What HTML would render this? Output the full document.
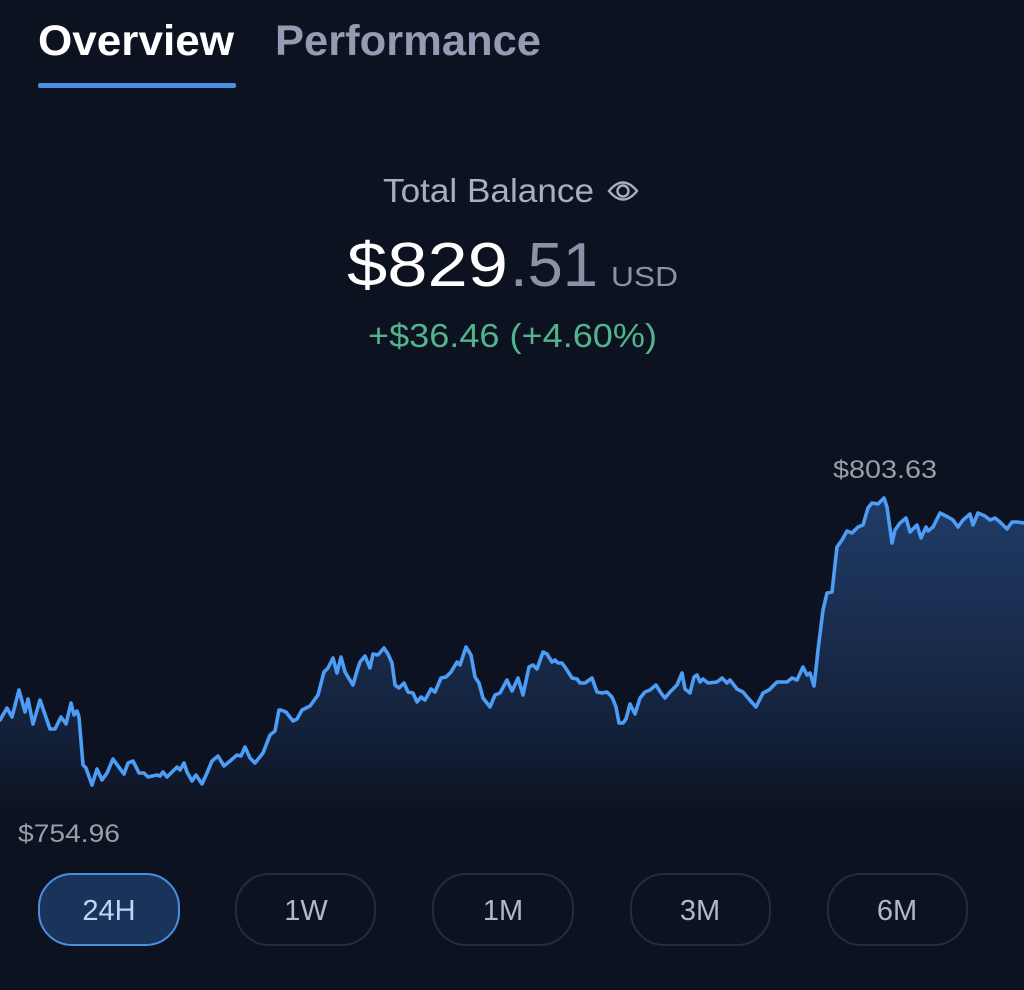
<!DOCTYPE html>
<html><head><meta charset="utf-8"><style>
html,body{margin:0;padding:0;background:#0d1220;}
svg{display:block;}
text{font-family:"Liberation Sans",sans-serif;}
</style></head><body>
<svg width="1024" height="990" viewBox="0 0 1024 990" xmlns="http://www.w3.org/2000/svg">
<defs>
<linearGradient id="g" x1="0" y1="495" x2="0" y2="815" gradientUnits="userSpaceOnUse">
<stop offset="0" stop-color="#203c68"/>
<stop offset="0.45" stop-color="#192c4c"/>
<stop offset="0.75" stop-color="#132039"/>
<stop offset="1" stop-color="#0d1220"/>
</linearGradient>
</defs>
<rect width="1024" height="990" fill="#0d1220"/>
<text x="38" y="55" font-size="43" font-weight="bold" fill="#ffffff" textLength="196" lengthAdjust="spacingAndGlyphs">Overview</text>
<text x="275" y="55" font-size="43" font-weight="bold" fill="#959bb2" textLength="266" lengthAdjust="spacingAndGlyphs">Performance</text>
<rect x="38" y="83" width="198" height="5" rx="2" fill="#4a90e2"/>

<text x="383" y="202" font-size="33" fill="#a8adbf" textLength="211" lengthAdjust="spacingAndGlyphs">Total Balance</text>
<g fill="none" stroke="#a8adbf" stroke-width="2.4">
<path d="M609 191 Q623 174 637 191 Q623 208 609 191 Z"/>
<circle cx="623" cy="191" r="5.5"/>
</g>

<text x="347" y="286" font-size="62" fill="#ffffff" textLength="161" lengthAdjust="spacingAndGlyphs">$829</text>
<text x="510" y="286" font-size="62" fill="#8b91a8" textLength="88" lengthAdjust="spacingAndGlyphs">.51</text>
<text x="611" y="286" font-size="28" fill="#8b91a8" textLength="67" lengthAdjust="spacingAndGlyphs">USD</text>
<text x="368" y="347" font-size="33" fill="#52b38c" textLength="289" lengthAdjust="spacingAndGlyphs">+$36.46 (+4.60%)</text>

<text x="833" y="478" font-size="25" fill="#9a9eab" textLength="104" lengthAdjust="spacingAndGlyphs">$803.63</text>
<text x="18" y="842" font-size="25" fill="#9a9eab" textLength="102" lengthAdjust="spacingAndGlyphs">$754.96</text>

<path id="area" fill="url(#g)" d="M0,720 L7,708 12,717 19,690 25,712 28,699 33,724 40,700 50,729 55,729 61,717 66,724 71,703 74,715 77,711 79,717 83,765 86,768 92,785 97,769 102,780 107,773 113,759 118,766 124,774 128,763 133,761 139,773 144,773 148,777 157,775 160,776 163,772 167,777 177,767 180,770 184,763 187,772 192,781 196,775 202,784 207,773 212,761 218,756 224,766 230,761 237,755 241,756 245,747 250,758 255,763 263,753 270,735 275,731 279,710 281,710 286,712 293,721 297,719 302,710 310,706 318,695 324,672 328,668 333,658 337,673 341,657 345,672 348,677 353,685 357,671 360,662 365,656 370,668 373,654 378,655 384,648 388,654 392,663 395,685 399,688 404,683 408,692 413,693 417,702 421,697 425,700 431,689 435,692 441,678 446,677 451,672 454,667 457,662 460,665 466,647 471,655 475,677 479,683 483,698 490,707 495,695 500,693 507,680 512,691 518,678 523,695 529,667 533,665 537,669 543,652 547,654 552,662 555,660 558,663 562,663 567,670 572,678 577,679 580,683 585,683 592,678 597,692 602,693 607,692 612,697 616,707 619,723 623,723 626,719 630,704 635,714 640,698 645,692 650,690 656,685 661,693 665,698 670,692 677,685 682,673 685,689 690,693 694,677 697,675 700,682 703,679 708,683 717,682 722,678 727,683 730,680 737,689 743,692 748,698 756,707 763,693 769,690 777,682 787,682 792,678 797,680 803,667 807,675 810,673 814,686 817,660 818,650 823,610 827,593 832,592 837,547 842,540 847,531 852,533 858,527 863,525 868,508 872,503 878,504 884,498 887,507 892,543 895,530 900,523 906,518 910,532 917,525 921,538 926,527 928,531 933,527 940,513 944,515 948,517 953,520 958,527 963,520 970,514 973,525 978,513 985,516 990,520 995,518 1000,522 1007,529 1012,522 1017,522 1024,523 L1024,815 L0,815 Z"/>
<polyline fill="none" stroke="#4d9cf5" stroke-width="3.6" stroke-linejoin="round" stroke-linecap="round" points="0,720 7,708 12,717 19,690 25,712 28,699 33,724 40,700 50,729 55,729 61,717 66,724 71,703 74,715 77,711 79,717 83,765 86,768 92,785 97,769 102,780 107,773 113,759 118,766 124,774 128,763 133,761 139,773 144,773 148,777 157,775 160,776 163,772 167,777 177,767 180,770 184,763 187,772 192,781 196,775 202,784 207,773 212,761 218,756 224,766 230,761 237,755 241,756 245,747 250,758 255,763 263,753 270,735 275,731 279,710 281,710 286,712 293,721 297,719 302,710 310,706 318,695 324,672 328,668 333,658 337,673 341,657 345,672 348,677 353,685 357,671 360,662 365,656 370,668 373,654 378,655 384,648 388,654 392,663 395,685 399,688 404,683 408,692 413,693 417,702 421,697 425,700 431,689 435,692 441,678 446,677 451,672 454,667 457,662 460,665 466,647 471,655 475,677 479,683 483,698 490,707 495,695 500,693 507,680 512,691 518,678 523,695 529,667 533,665 537,669 543,652 547,654 552,662 555,660 558,663 562,663 567,670 572,678 577,679 580,683 585,683 592,678 597,692 602,693 607,692 612,697 616,707 619,723 623,723 626,719 630,704 635,714 640,698 645,692 650,690 656,685 661,693 665,698 670,692 677,685 682,673 685,689 690,693 694,677 697,675 700,682 703,679 708,683 717,682 722,678 727,683 730,680 737,689 743,692 748,698 756,707 763,693 769,690 777,682 787,682 792,678 797,680 803,667 807,675 810,673 814,686 817,660 818,650 823,610 827,593 832,592 837,547 842,540 847,531 852,533 858,527 863,525 868,508 872,503 878,504 884,498 887,507 892,543 895,530 900,523 906,518 910,532 917,525 921,538 926,527 928,531 933,527 940,513 944,515 948,517 953,520 958,527 963,520 970,514 973,525 978,513 985,516 990,520 995,518 1000,522 1007,529 1012,522 1017,522 1024,523"/>

<rect x="39" y="874" width="140" height="71" rx="33" fill="#19335a" stroke="#4a8fe0" stroke-width="2"/>
<text x="109" y="920" font-size="29" fill="#bcd6f6" text-anchor="middle">24H</text>
<rect x="236" y="874" width="139" height="71" rx="33" fill="none" stroke="#262c3b" stroke-width="2"/>
<text x="306" y="920" font-size="29" fill="#b3b7c6" text-anchor="middle">1W</text>
<rect x="433" y="874" width="140" height="71" rx="33" fill="none" stroke="#262c3b" stroke-width="2"/>
<text x="503" y="920" font-size="29" fill="#b3b7c6" text-anchor="middle">1M</text>
<rect x="631" y="874" width="139" height="71" rx="33" fill="none" stroke="#262c3b" stroke-width="2"/>
<text x="700" y="920" font-size="29" fill="#b3b7c6" text-anchor="middle">3M</text>
<rect x="828" y="874" width="139" height="71" rx="33" fill="none" stroke="#262c3b" stroke-width="2"/>
<text x="897" y="920" font-size="29" fill="#b3b7c6" text-anchor="middle">6M</text>
</svg>
</body></html>
